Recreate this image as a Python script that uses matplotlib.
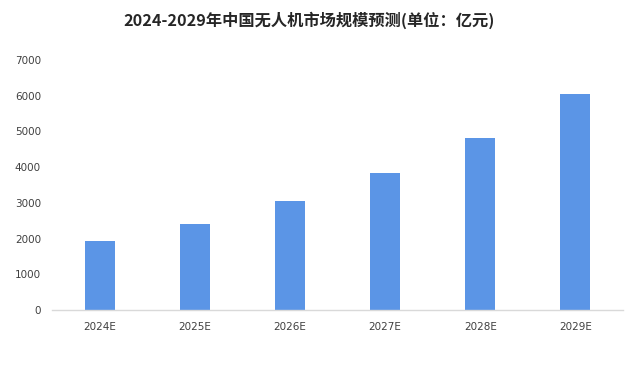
import matplotlib
matplotlib.use("Agg")
import matplotlib.pyplot as plt

plt.rcParams['font.family'] = ['Noto Sans CJK SC', 'DejaVu Sans']

categories = ["2024E", "2025E", "2026E", "2027E", "2028E", "2029E"]
values = [1930, 2410, 3050, 3830, 4820, 6050]
yticks = [0, 1000, 2000, 3000, 4000, 5000, 6000, 7000]
title = "2024-2029年中国无人机市场规模预测(单位：亿元)"

fig = plt.figure(figsize=(6.34, 3.88), dpi=100)
ax = fig.add_axes([52/634, 1 - 310/388, 571/634, 250/388])
x = range(len(categories))
ax.bar(x, values, width=0.315, color="#5B95E6", zorder=2)
ax.set_xlim(-0.5, len(categories) - 0.5)
ax.set_ylim(0, 7000)
ax.set_xticks(list(x))
ax.set_xticklabels(categories, fontsize=7.5, color="#404040", family=['DejaVu Sans'])
ax.set_yticks(yticks)
ax.set_yticklabels([str(t) for t in yticks], fontsize=7.5, color="#404040", family=['DejaVu Sans'])
ax.tick_params(axis='both', length=0)
ax.tick_params(axis='x', pad=9)
ax.tick_params(axis='y', pad=8)
for s in ['top', 'right', 'left']:
    ax.spines[s].set_visible(False)
ax.spines['bottom'].set_color("#d9d9d9")
ax.spines['bottom'].set_linewidth(1)
fig.text(0.487, 1 - 20/388, title, ha='center', va='center', fontsize=11.7, fontweight='bold', color="#262626")
fig.savefig("out.png", dpi=100, facecolor="white")
